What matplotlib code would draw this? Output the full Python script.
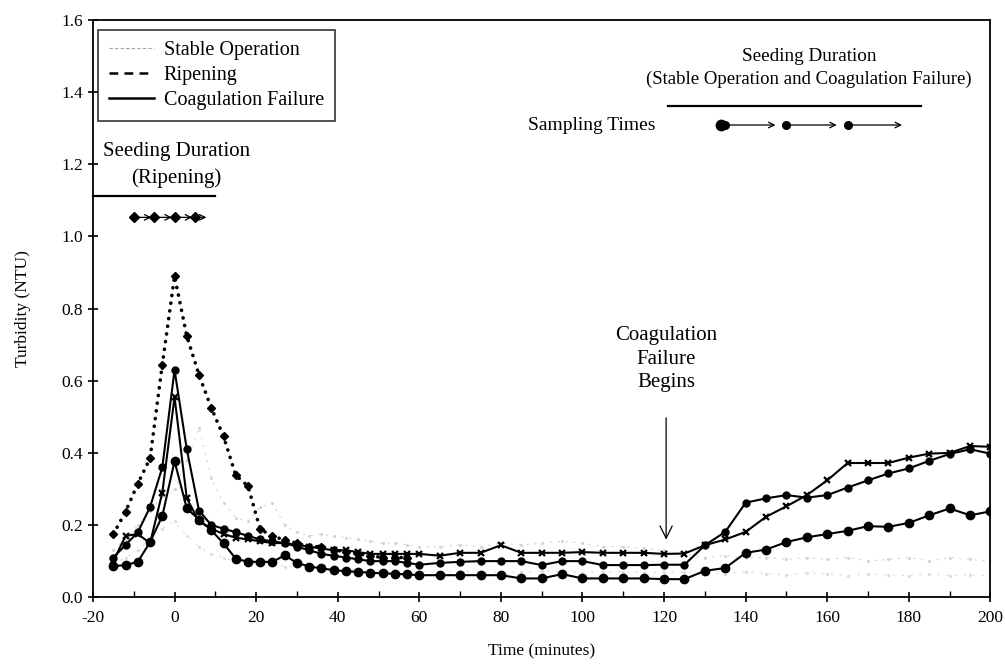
import numpy as np
import matplotlib
matplotlib.use("Agg")
import matplotlib.pyplot as plt
from matplotlib.lines import Line2D

plt.rcParams['font.family'] = ['Liberation Serif', 'DejaVu Serif']
plt.rcParams['axes.unicode_minus'] = False

# sampling times (minutes)
t_early = [-15, -12, -9, -6, -3, 0, 3, 6, 9, 12, 15, 18, 21, 24, 27, 30,
           33, 36, 39, 42, 45, 48, 51, 54, 57, 60]
t_late = [65, 70, 75, 80, 85, 90, 95, 100, 105, 110, 115, 120, 125, 130,
          135, 140, 145, 150, 155, 160, 165, 170, 175, 180, 185, 190, 195, 200]

# coagulation failure runs (solid)
cf_mid_early = [0.11, 0.145, 0.18, 0.25, 0.36, 0.63, 0.41, 0.24, 0.20, 0.19, 0.18, 0.17,
                0.16, 0.155, 0.15, 0.14, 0.13, 0.12, 0.115, 0.11, 0.105, 0.10, 0.10, 0.10,
                0.095, 0.09]
cf_mid_late = [0.095, 0.098, 0.10, 0.10, 0.10, 0.089, 0.10, 0.10, 0.089, 0.089, 0.089, 0.09,
               0.09, 0.144, 0.181, 0.262, 0.274, 0.283, 0.276, 0.283, 0.304, 0.324, 0.343,
               0.357, 0.378, 0.397, 0.41, 0.398]
cf_top_early = [0.10, 0.17, 0.175, 0.15, 0.29, 0.555, 0.274, 0.21, 0.19, 0.175, 0.165, 0.16,
                0.155, 0.15, 0.15, 0.145, 0.14, 0.135, 0.13, 0.13, 0.125, 0.12, 0.12, 0.12,
                0.12, 0.12]
cf_top_late = [0.115, 0.123, 0.123, 0.144, 0.123, 0.123, 0.123, 0.125, 0.123, 0.123, 0.123,
               0.12, 0.121, 0.144, 0.16, 0.181, 0.223, 0.252, 0.283, 0.324, 0.372, 0.372,
               0.372, 0.387, 0.398, 0.40, 0.419, 0.417]
cf_low_early = [0.086, 0.089, 0.098, 0.153, 0.225, 0.377, 0.246, 0.215, 0.186, 0.149, 0.107,
                0.098, 0.098, 0.098, 0.116, 0.095, 0.085, 0.08, 0.075, 0.072, 0.07, 0.068,
                0.066, 0.065, 0.063, 0.061]
cf_low_late = [0.061, 0.061, 0.061, 0.061, 0.052, 0.052, 0.064, 0.052, 0.052, 0.052, 0.052,
               0.05, 0.05, 0.073, 0.081, 0.123, 0.132, 0.153, 0.166, 0.175, 0.184, 0.197,
               0.195, 0.206, 0.227, 0.246, 0.227, 0.238]

# ripening run (dotted)
rip = [0.175, 0.237, 0.315, 0.385, 0.645, 0.89, 0.724, 0.616, 0.525, 0.446, 0.338, 0.308,
       0.188, 0.17, 0.158, 0.15, 0.14, 0.14, 0.132, 0.125, 0.12, 0.115, 0.11, 0.11, 0.11]

# stable operation runs (faint)
st1_early = [0.13, 0.16, 0.20, 0.24, 0.28, 0.30, 0.38, 0.47, 0.33, 0.26, 0.22, 0.21, 0.25,
             0.26, 0.20, 0.18, 0.17, 0.175, 0.17, 0.165, 0.16, 0.155, 0.15, 0.15, 0.145, 0.14]
st1_late = [0.14, 0.145, 0.14, 0.15, 0.145, 0.15, 0.155, 0.15, 0.14, 0.14, 0.135, 0.13, 0.12,
            0.11, 0.115, 0.11, 0.11, 0.105, 0.11, 0.105, 0.11, 0.10, 0.105, 0.11, 0.10, 0.11,
            0.105, 0.10]
st2_early = [0.09, 0.11, 0.13, 0.16, 0.19, 0.21, 0.17, 0.14, 0.12, 0.11, 0.10, 0.095, 0.09,
             0.09, 0.085, 0.085, 0.08, 0.08, 0.08, 0.078, 0.075, 0.075, 0.072, 0.07, 0.07, 0.07]
st2_late = [0.07, 0.072, 0.07, 0.068, 0.07, 0.072, 0.07, 0.068, 0.07, 0.07, 0.068, 0.07, 0.07,
            0.068, 0.065, 0.07, 0.065, 0.062, 0.068, 0.065, 0.06, 0.065, 0.062, 0.06, 0.065,
            0.06, 0.062, 0.06]

rip_seed_t = [-10, -5, 0, 5]
samp_t = [135, 150, 165]

t_all = t_early + t_late

fig = plt.figure(figsize=(10.05, 6.68), dpi=100)
ax = fig.add_axes([0.0925, 0.106, 0.893, 0.864])

# stable operation (faint grey)
ax.plot(t_all, st1_early + st1_late, color='#d4d4d4', lw=0.8, ls=(0, (2, 5)),
        marker='.', ms=2.5, zorder=1)
ax.plot(t_all, st2_early + st2_late, color='#dcdcdc', lw=0.8, ls=(0, (2, 6)),
        marker='.', ms=2.5, zorder=1)

# ripening
ax.plot(t_early[:len(rip)], rip, color='black', lw=2.6, ls=(0, (0.05, 2.1)),
        dash_capstyle='round', marker='D', ms=4.5, zorder=3)

# coagulation failure
ax.plot(t_all, cf_top_early + cf_top_late, color='black', lw=1.5,
        marker='x', ms=5, mew=1.6, zorder=4)
ax.plot(t_all, cf_mid_early + cf_mid_late, color='black', lw=1.5,
        marker='o', ms=5, zorder=4)
ax.plot(t_all, cf_low_early + cf_low_late, color='black', lw=1.5,
        marker='o', ms=6, zorder=4)

ax.set_xlim(-20, 200)
ax.set_ylim(0, 1.6)
ax.set_xticks(np.arange(-20, 201, 20))
ax.set_xticks(np.arange(-10, 200, 20), minor=True)
ax.set_yticks(np.arange(0, 1.61, 0.2))
ax.set_yticklabels(['%.1f' % v for v in np.arange(0, 1.61, 0.2)])
ax.tick_params(axis='both', which='major', direction='inout', length=7, width=1.2,
               labelsize=12.5, colors='black')
ax.tick_params(axis='x', which='major', pad=6)
ax.tick_params(axis='x', which='minor', direction='in', length=4, width=1)
for s in ax.spines.values():
    s.set_linewidth(1.3)

ax.set_xlabel('Time (minutes)', fontsize=12.5, labelpad=12)
ax.set_ylabel('Turbidity (NTU)', fontsize=12.5, labelpad=22)

# seeding duration (ripening)
ax.text(0.5, 1.235, 'Seeding Duration', ha='center', va='center', fontsize=15)
ax.text(0.5, 1.162, '(Ripening)', ha='center', va='center', fontsize=15)
ax.plot([-20, 10], [1.112, 1.112], color='black', lw=1.6, clip_on=False)
for a, b in zip(rip_seed_t[:-1], rip_seed_t[1:]):
    ax.annotate('', xy=(b, 1.053), xytext=(a, 1.053),
                arrowprops=dict(arrowstyle='->', color='black', lw=0.9))
ax.annotate('', xy=(8.5, 1.053), xytext=(rip_seed_t[-1], 1.053),
            arrowprops=dict(arrowstyle='->', color='black', lw=0.9))
ax.plot(rip_seed_t, [1.053] * len(rip_seed_t), ls='none', marker='D', ms=5,
        color='black', zorder=5)

# seeding duration (stable operation and coagulation failure)
ax.text(155.5, 1.50, 'Seeding Duration', ha='center', va='center', fontsize=13.8)
ax.text(155.5, 1.435, '(Stable Operation and Coagulation Failure)', ha='center',
        va='center', fontsize=13.5)
ax.plot([121, 183], [1.362, 1.362], color='black', lw=1.6)
ax.text(118, 1.309, 'Sampling Times', ha='right', va='center', fontsize=14)
ends = [148, 163, 179]
for a, b in zip(samp_t, ends):
    ax.annotate('', xy=(b, 1.309), xytext=(a, 1.309),
                arrowprops=dict(arrowstyle='->', color='black', lw=0.9))
ax.plot(samp_t, [1.309] * 3, ls='none', marker='o', ms=5.5, color='black', zorder=5)
ax.plot([134], [1.309], ls='none', marker='o', ms=7.5, color='black', zorder=5)

# coagulation failure begins
ax.text(120.5, 0.66, 'Coagulation\nFailure\nBegins', ha='center', va='center',
        fontsize=15, linespacing=1.3)
ax.annotate('', xy=(120.5, 0.152), xytext=(120.5, 0.505),
            arrowprops=dict(arrowstyle='->', color='black', lw=0.9,
                            mutation_scale=22))

# legend
handles = [Line2D([0], [0], color='#a0a0a0', lw=0.8, ls=(0, (3, 2))),
           Line2D([0], [0], color='black', lw=1.8, ls=(0, (3.5, 2.5))),
           Line2D([0], [0], color='black', lw=1.8)]
leg = ax.legend(handles, ['Stable Operation', 'Ripening', 'Coagulation Failure'],
                loc='upper left', bbox_to_anchor=(0.006, 0.983), borderaxespad=0,
                fontsize=14.5, frameon=True, fancybox=False, edgecolor='black',
                handlelength=2.2, handletextpad=0.5, borderpad=0.55, labelspacing=0.3)
leg.get_frame().set_linewidth(1.2)

fig.savefig('out.png', dpi=100)
